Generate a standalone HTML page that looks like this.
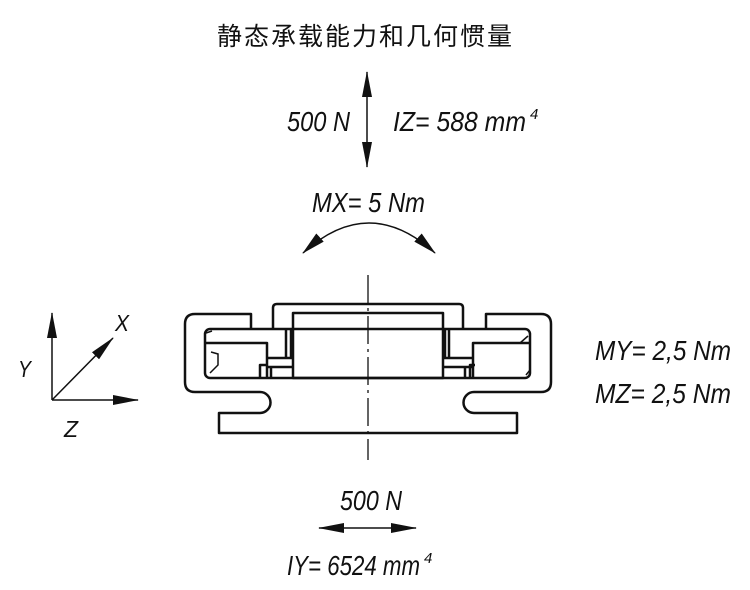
<!DOCTYPE html>
<html><head><meta charset="utf-8"><style>body{margin:0;background:#fff}svg{display:block}</style></head><body>
<svg width="750" height="590" viewBox="0 0 750 590" xmlns="http://www.w3.org/2000/svg">
<defs>
<marker id="ah" markerWidth="26" markerHeight="10" refX="25" refY="5" orient="auto-start-reverse" markerUnits="userSpaceOnUse"><path d="M0,0 L26,5 L0,10 Z" fill="#111"/></marker>
<marker id="ahs" markerWidth="24" markerHeight="11" refX="23" refY="5.5" orient="auto-start-reverse" markerUnits="userSpaceOnUse"><path d="M0,0 L24,5.5 L0,11 Z" fill="#111"/></marker>
</defs>
<text x="217" y="45" font-family="Liberation Sans, Noto Sans CJK SC, sans-serif" font-size="25" textLength="295" fill="#111">静态承载能力和几何惯量</text>
<g font-family="Liberation Sans, sans-serif" font-style="italic" font-size="28" fill="#111">
<text x="287" y="131" textLength="63" lengthAdjust="spacingAndGlyphs">500 N</text>
<text x="393" y="131" textLength="133" lengthAdjust="spacingAndGlyphs">IZ= 588 mm</text>
<text x="530" y="119" font-size="15">4</text>
<text x="312" y="212" textLength="113" lengthAdjust="spacingAndGlyphs">MX= 5 Nm</text>
<text x="595" y="360" textLength="136" lengthAdjust="spacingAndGlyphs">MY= 2,5 Nm</text>
<text x="595" y="403" textLength="136" lengthAdjust="spacingAndGlyphs">MZ= 2,5 Nm</text>
<text x="340" y="510" textLength="62" lengthAdjust="spacingAndGlyphs">500 N</text>
<text x="287" y="575" textLength="133" lengthAdjust="spacingAndGlyphs">IY= 6524 mm</text>
<text x="424" y="563" font-size="15">4</text>
<text x="18" y="377" font-size="23" textLength="13" lengthAdjust="spacingAndGlyphs">Y</text>
<text x="115" y="331" font-size="23" textLength="14" lengthAdjust="spacingAndGlyphs">X</text>
<text x="64" y="437" font-size="23" textLength="14" lengthAdjust="spacingAndGlyphs">Z</text>
</g>
<g stroke="#111" stroke-width="1.5" fill="none">
<line x1="367" y1="120" x2="367" y2="72" marker-end="url(#ah)"/>
<line x1="367" y1="120" x2="367" y2="167" marker-end="url(#ah)"/>
<path d="M303,253 Q369,193 435,253" marker-start="url(#ahs)" marker-end="url(#ahs)"/>
<line x1="367" y1="528" x2="319" y2="528" marker-end="url(#ah)"/>
<line x1="367" y1="528" x2="416" y2="528" marker-end="url(#ah)"/>
<line x1="52" y1="400" x2="52" y2="313" marker-end="url(#ah)"/>
<line x1="52" y1="400" x2="138" y2="400" marker-end="url(#ah)"/>
<line x1="52" y1="400" x2="113" y2="338" marker-end="url(#ah)"/>
</g>
<g stroke="#111" stroke-width="2.5" fill="none" stroke-linejoin="round">
<path d="M251,329 V314 H195 Q185,314 185,324 V382 Q185,392 195,392 H260 A10.5,10.5 0 0 1 260,413 H219 V433 H517 V413 H474 A10.5,10.5 0 0 1 474,392 H541 Q551,392 551,382 V324 Q551,314 541,314 H486 V329"/>
<path d="M273,329 V308 Q273,304 277,304 H459 Q463,304 463,308 V329"/>
<rect x="205" y="329" width="325" height="49" rx="5"/>
<rect x="293" y="313" width="150" height="65"/>
<path d="M205,343 H267 V378 M260,378 V365 H267 M267,358 H293 M267,367 H293 M271,367 V378 M286,329 V358 M291,329 V358"/>
<path d="M530,343 H473 V378 M475,365 H470 V378 M443,358 H473 M443,367 H473 M465,367 V378 M445,329 V358 M449,329 V358"/>
</g>
<g stroke="#111" stroke-width="1.5" fill="none">
<path d="M211,352 L218,354 V365 L210,373 M206,333 L212,331 M520,343 L528,336 M526,375 L530,370"/>
</g>
<line x1="368" y1="275" x2="368" y2="460" stroke="#111" stroke-width="1.3" stroke-dasharray="28,5,3,5"/>
</svg>
</body></html>
